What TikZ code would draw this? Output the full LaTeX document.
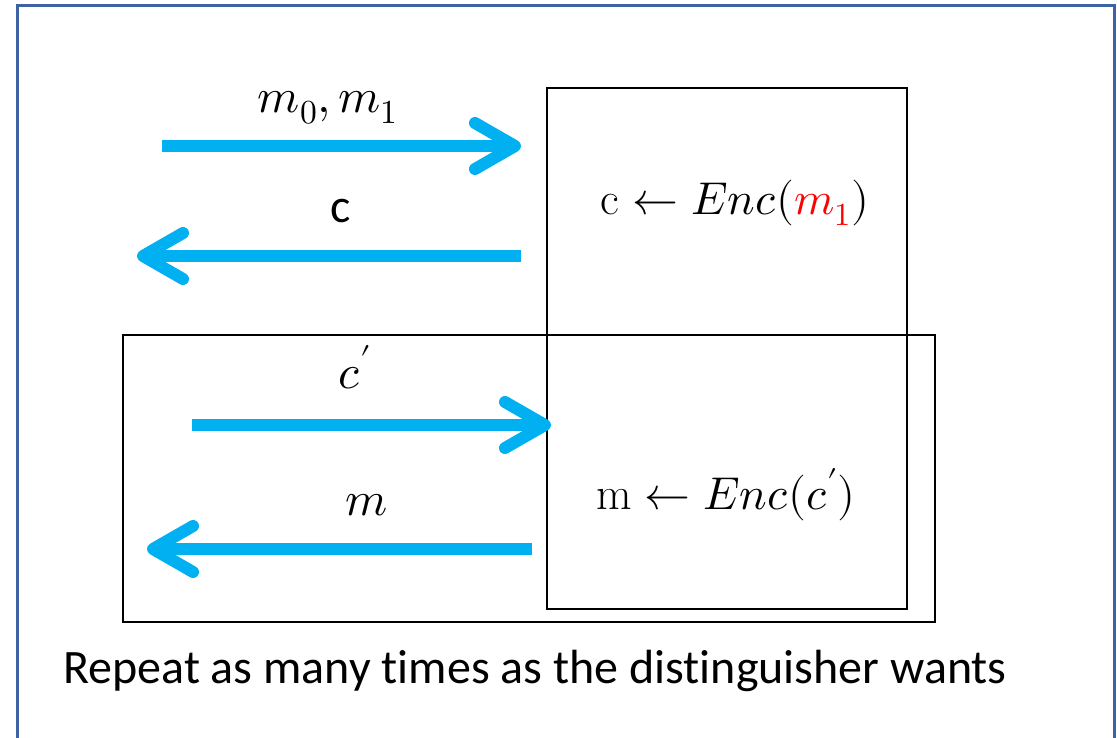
\documentclass[tikz,border=0pt]{standalone}
\usepackage{fontspec}
\usepackage{unicode-math}
\setsansfont{Carlito}[Ligatures=NoCommon]
\setmathfont{Latin Modern Math}
\usepackage{xcolor}
\usetikzlibrary{arrows.meta, positioning}

\definecolor{msgblue}{HTML}{00B0F0}
\definecolor{slideframe}{HTML}{3F62A3}

\begin{document}
\begin{tikzpicture}[
    x=1pt, y=-1pt,
    font=\fontsize{48}{58}\selectfont,
    frame/.style={
      draw=black,
      line width=2.5pt,
      inner sep=0pt,
      fill=none
    },
    msg/.style={
      -{Straight Barb[length=40pt, width=46pt, round]},
      line width=12pt,
      draw=msgblue
    },
    lbl/.style={
      anchor=base,
      inner sep=0pt
    },
    boxtext/.style={
      anchor=base,
      inner sep=0pt,
      font=\fontsize{46}{56}\selectfont
    }
  ]

    \useasboundingbox (0,0) rectangle (1117,737);

    % Slide frame (open at the bottom)
    \draw[slideframe, line width=3pt] (17,760) -- (17,5) -- (1114,5) -- (1114,760);

    % Boxes
    \node[frame, minimum width=360pt, minimum height=521pt] (chal) at (727,348.5) {};
    \node[frame, minimum width=812pt, minimum height=287pt] (oracle) at (529,478.5) {};

    \node[boxtext] (enc) at (735,214) {$\mathrm{c} \leftarrow Enc({\color{red}m_1})$};
    \node[boxtext] (dec) at (726,509) {$\mathrm{m} \leftarrow Enc(c')$};

    % Arrow end points
    \coordinate (m01s) at (162,146);
    \coordinate (m01e) at (521,146);
    \coordinate (cs) at (521,256);
    \coordinate (ce) at (137,256);
    \coordinate (cps) at (192,425);
    \coordinate (cpe) at (551,425);
    \coordinate (ms) at (532,549);
    \coordinate (me) at (147,549);

    % Arrows
    \draw[msg] (m01s) -- (m01e);
    \draw[msg] (cs) -- (ce);
    \draw[msg] (cps) -- (cpe);
    \draw[msg] (ms) -- (me);

    % Labels
    \node[lbl] (lm01) at (328,112) {$m_0, m_1$};
    \node[lbl] (lc) at (341,222) {\sffamily c};
    \node[lbl] (lcp) at (355,388) {$c'$};
    \node[lbl] (lm) at (367,515) {$m$};

    % Caption
    \node[anchor=base west, inner sep=0pt] (note) at (63,683)
      {\sffamily Repeat as many times as the distinguisher wants};

  \end{tikzpicture}
\end{document}
